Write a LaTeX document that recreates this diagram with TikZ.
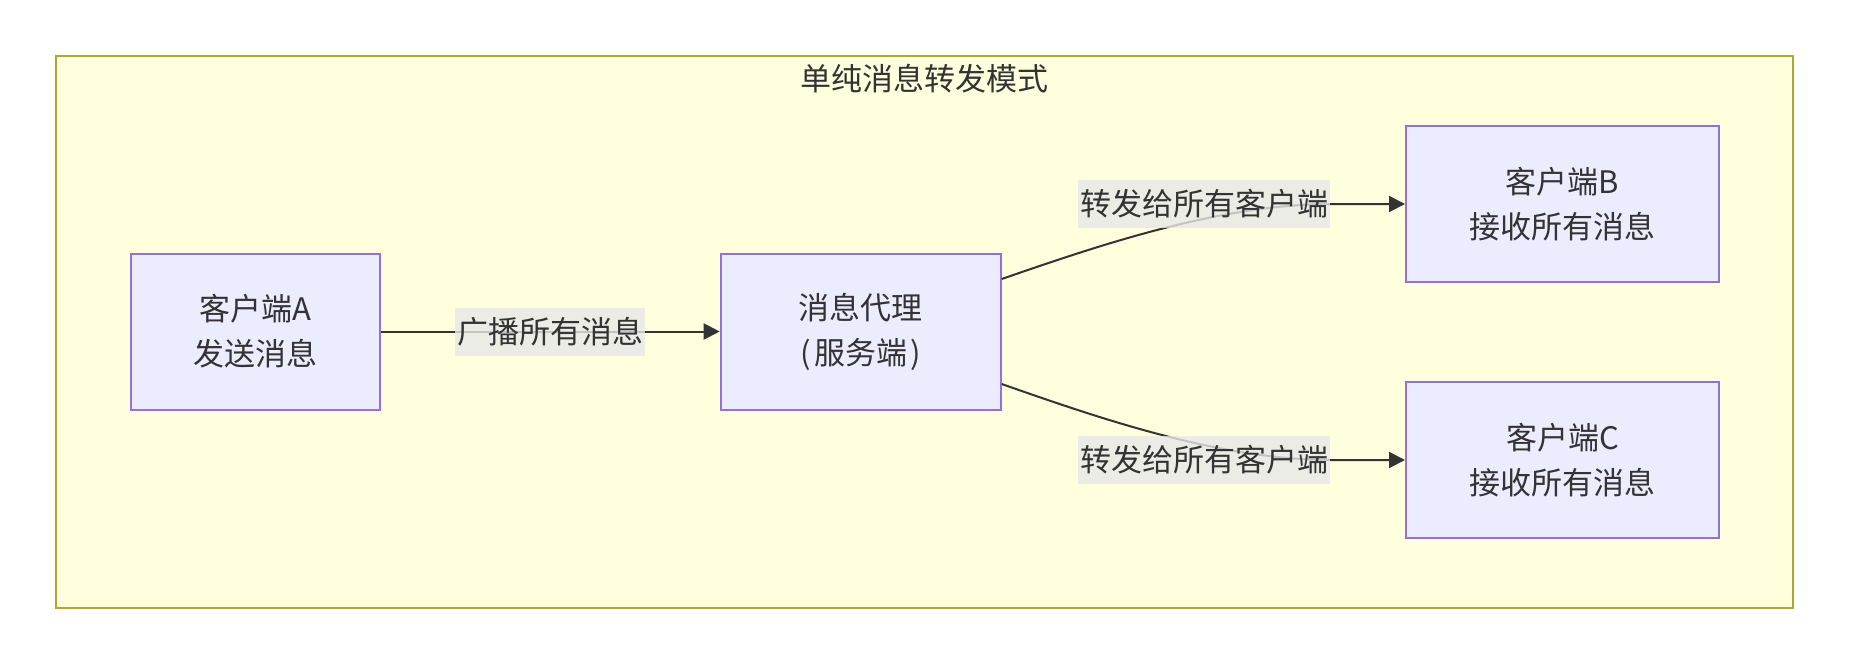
\documentclass[tikz,border=0pt]{standalone}
\usepackage{fontspec}
\setmainfont{Noto Sans CJK SC}
\usetikzlibrary{arrows.meta,calc}
\definecolor{clfill}{HTML}{FFFFDE}
\definecolor{cldraw}{HTML}{AAAA33}
\definecolor{ndfill}{HTML}{ECECFF}
\definecolor{nddraw}{HTML}{9370DB}
\definecolor{txt}{HTML}{333333}
\definecolor{lblbg}{HTML}{E8E8E8}
\tikzset{
  every node/.style={text=txt, font=\fontsize{15.5pt}{22.5pt}\selectfont},
  box/.style={draw=nddraw, fill=ndfill, line width=1pt, inner sep=0pt, align=center, minimum height=78pt},
  elabel/.style={fill=lblbg, fill opacity=0.8, text opacity=1, inner xsep=1pt, inner ysep=0pt, minimum height=24pt},
  conn/.style={draw=txt, line width=1pt, -{Triangle[length=8pt,width=8pt]}},
}
\begin{document}
\begin{tikzpicture}[x=0.5pt,y=-0.5pt]
\useasboundingbox (0,0) rectangle (1850,664);
\fill[white] (0,0) rectangle (1850,664);
\draw[draw=cldraw, fill=clfill, line width=1pt] (55.5,55.5) rectangle (1793,607.6);
\node (title) at (924,79) {单纯消息转发模式};
\node[box, minimum width=124.5pt] (A) at (255,331.5) {客户端A\\发送消息};
\node[box, minimum width=140pt] (M) at (860.7,331.5) {消息代理\\(\hspace{1.5pt}服务端\hspace{1.5pt})};
\node[box, minimum width=156.5pt] (B) at (1562.5,204) {客户端B\\接收所有消息};
\node[box, minimum width=156.5pt] (C) at (1562.5,460) {客户端C\\接收所有消息};
\coordinate (bend1) at (1332,204);
\coordinate (bend2) at (1332,460);
\draw[conn] (A.east) -- (M.west);
\draw[conn] ($(M.east)+(0,-52.5)$) .. controls (1100,245) and (1220,204) .. (bend1) -- (B.west);
\draw[conn] ($(M.east)+(0,52.5)$) .. controls (1100,418.5) and (1220,460) .. (bend2) -- (C.west);
\node[elabel] (l1) at (550,332) {广播所有消息};
\node[elabel] (l2) at (1204,203.5) {转发给所有客户端};
\node[elabel] (l3) at (1204,459.5) {转发给所有客户端};
\end{tikzpicture}
\end{document}
